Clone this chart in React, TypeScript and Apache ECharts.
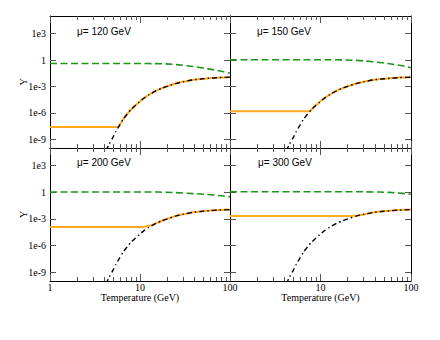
import React, { useEffect, useRef } from 'react';
import * as echarts from 'echarts';

// ---------- data (temperatures in GeV, abundances given as log10(Y)) ----------
const panelTitles = ['μ= 120 GeV', 'μ= 150 GeV', 'μ= 200 GeV', 'μ= 300 GeV'];

const xMajorTicks = [1, 10, 100];
const xMinorTicks = [2, 3, 4, 5, 6, 7, 8, 9, 20, 30, 40, 50, 60, 70, 80, 90];
const yTickExponents = [-9, -6, -3, 0, 3];

// equilibrium curve (black dash-dot), identical in every panel
const eqTemp = [4.2, 4.54, 5.0, 5.38, 5.9, 6.49, 7.2, 7.9, 8.8, 9.75, 11, 12.6, 15, 17.6, 20, 24.8, 30, 38, 47, 58, 75, 100];
const eqLogY = [-10.3, -9.56, -8.8, -8.15, -7.45, -6.73, -6.15, -5.65, -5.2, -4.8, -4.35, -3.95, -3.5, -3.2, -3.0, -2.68, -2.48, -2.27, -2.16, -2.08, -2.0, -1.95];

// green dashed curves
const green120Temp = [1, 12, 18, 24, 31, 40, 48, 60, 72, 85, 100];
const green120LogY = [-0.4, -0.4, -0.43, -0.5, -0.62, -0.75, -0.88, -1.04, -1.19, -1.34, -1.5];
const green150Temp = [1, 15, 20, 25, 30, 38, 48, 58, 70, 81, 100];
const green150LogY = [0.03, 0.03, 0.0, -0.04, -0.1, -0.2, -0.31, -0.43, -0.55, -0.66, -0.88];
const green200Temp = [1, 16, 25, 33, 42, 53, 65, 80, 100];
const green200LogY = [0.03, 0.03, -0.03, -0.1, -0.16, -0.23, -0.3, -0.39, -0.5];
const green300Temp = [1, 30, 45, 58, 70, 81, 100];
const green300LogY = [0.06, 0.06, 0.03, -0.01, -0.06, -0.12, -0.22];

// orange solid curves
const orange120Temp = [1, 5.6, 5.9, 6.49, 7.2, 7.9, 8.8, 9.75, 11, 12.6, 15, 17.6, 20, 24.8, 30, 38, 47, 58, 75, 100];
const orange120LogY = [-7.62, -7.62, -7.45, -6.73, -6.15, -5.65, -5.2, -4.8, -4.35, -3.95, -3.5, -3.2, -3.0, -2.68, -2.48, -2.27, -2.16, -2.08, -2.0, -1.95];
const orange150Temp = [1, 7.7, 7.9, 8.8, 9.75, 11, 12.6, 15, 17.6, 20, 24.8, 30, 38, 47, 58, 75, 100];
const orange150LogY = [-5.83, -5.83, -5.65, -5.2, -4.8, -4.35, -3.95, -3.5, -3.2, -3.0, -2.68, -2.48, -2.27, -2.16, -2.08, -2.0, -1.95];
const orange200Temp = [1, 10.5, 12, 13.5, 15, 17.6, 20, 24.8, 30, 38, 47, 58, 75, 100];
const orange200LogY = [-3.9, -3.9, -3.83, -3.7, -3.5, -3.2, -3.0, -2.68, -2.48, -2.27, -2.16, -2.08, -2.0, -1.95];
const orange300Temp = [1, 20, 24, 28, 33, 38, 47, 58, 75, 100];
const orange300LogY = [-2.68, -2.68, -2.64, -2.55, -2.4, -2.27, -2.16, -2.08, -2.0, -1.95];

const greenSets = [
  [green120Temp, green120LogY],
  [green150Temp, green150LogY],
  [green200Temp, green200LogY],
  [green300Temp, green300LogY],
];
const orangeSets = [
  [orange120Temp, orange120LogY],
  [orange150Temp, orange150LogY],
  [orange200Temp, orange200LogY],
  [orange300Temp, orange300LogY],
];

// ---------- layout ----------
const gridBoxes = [
  { left: 50, top: 16, width: 180, height: 132 },
  { left: 230, top: 16, width: 181, height: 132 },
  { left: 50, top: 148, width: 180, height: 133 },
  { left: 230, top: 148, width: 181, height: 133 },
];
const titlePos = [
  { left: 77, top: 26 },
  { left: 257, top: 26 },
  { left: 77, top: 157 },
  { left: 258, top: 157 },
];

const SERIF = "'Liberation Serif', 'DejaVu Serif', serif";
const SANS = "'Liberation Sans', Arial, sans-serif";
const TICK = '#555';
const GREEN = '#1a961a';
const ORANGE = '#ffaa1e';

const toXY = (t: number[], y: number[]) => t.map((v, i) => [Math.log10(v), y[i]]);

function buildOption() {
  const xMajor = xMajorTicks.map((v) => Math.log10(v));
  const xMinor = xMinorTicks.map((v) => Math.log10(v));
  const grid: any[] = [];
  const xAxis: any[] = [];
  const yAxis: any[] = [];
  const series: any[] = [];

  const axisLine = { show: true, onZero: false, lineStyle: { color: '#000', width: 1 } };

  // major grids 0..3
  for (let p = 0; p < 4; p++) {
    const isLeft = p % 2 === 0;
    const isBottom = p >= 2;
    grid.push({ ...gridBoxes[p], outerBoundsMode: 'none', containLabel: false });
    xAxis.push({
      type: 'value', gridIndex: p, position: 'bottom', min: 0, max: 2,
      axisLine,
      axisTick: { show: true, inside: true, length: 7, customValues: xMajor, lineStyle: { color: TICK } },
      axisLabel: {
        show: isBottom, customValues: isLeft ? xMajor : xMajor.slice(1), margin: 1,
        fontFamily: SERIF, fontSize: 10, lineHeight: 10, color: '#000',
        formatter: (v: number) => String(Math.round(Math.pow(10, v))),
      },
      splitLine: { show: false },
      name: isBottom ? 'Temperature (GeV)' : '',
      nameLocation: 'middle', nameGap: 11, nameMoveOverlap: false,
      nameTextStyle: { fontFamily: SERIF, fontSize: 10, lineHeight: 10, color: '#000' },
    });
    xAxis.push({
      type: 'value', gridIndex: p, position: 'top', min: 0, max: 2,
      axisLine,
      axisTick: { show: true, inside: true, length: 7, customValues: xMajor, lineStyle: { color: TICK } },
      axisLabel: { show: false },
      splitLine: { show: false },
    });
    yAxis.push({
      type: 'value', gridIndex: p, position: 'left', min: -10, max: 5,
      axisLine,
      axisTick: { show: true, inside: true, length: 6, customValues: yTickExponents, lineStyle: { color: TICK } },
      axisLabel: {
        show: isLeft, customValues: yTickExponents, margin: 4,
        fontFamily: SERIF, fontSize: 10, color: '#000',
        formatter: (v: number) => (v === 0 ? '1' : '1e' + v),
      },
      splitLine: { show: false },
      name: isLeft ? 'Y' : '',
      nameLocation: 'middle', nameGap: 22, nameMoveOverlap: false,
      nameTextStyle: { fontFamily: SERIF, fontSize: 10, color: '#000' },
    });
    yAxis.push({
      type: 'value', gridIndex: p, position: 'right', min: -10, max: 5,
      axisLine,
      axisTick: { show: true, inside: true, length: 6, customValues: yTickExponents, lineStyle: { color: TICK } },
      axisLabel: { show: false },
      splitLine: { show: false },
    });
  }
  // minor-tick grids 4..7 (same boxes)
  for (let p = 0; p < 4; p++) {
    const g = p + 4;
    grid.push({ ...gridBoxes[p], outerBoundsMode: 'none', containLabel: false });
    for (const pos of ['bottom', 'top']) {
      xAxis.push({
        type: 'value', gridIndex: g, position: pos, min: 0, max: 2,
        axisLine: { show: false, onZero: false },
        axisTick: { show: true, inside: true, length: 4, customValues: xMinor, lineStyle: { color: TICK } },
        axisLabel: { show: false },
        splitLine: { show: false },
      });
    }
    yAxis.push({ type: 'value', gridIndex: g, show: false, min: -10, max: 5, splitLine: { show: false } });
  }

  for (let p = 0; p < 4; p++) {
    const base = { type: 'line', xAxisIndex: 2 * p, yAxisIndex: 2 * p, showSymbol: false, symbol: 'none', silent: true, clip: true };
    series.push({
      ...base, name: 'green' + p,
      data: toXY(greenSets[p][0], greenSets[p][1]),
      lineStyle: { color: GREEN, width: 1.6, type: [7, 3.5] },
    });
    series.push({
      ...base, name: 'orange' + p,
      data: toXY(orangeSets[p][0], orangeSets[p][1]),
      lineStyle: { color: ORANGE, width: 2 },
      smooth: 0.2,
    });
    series.push({
      ...base, name: 'eq' + p,
      data: toXY(eqTemp, eqLogY),
      lineStyle: { color: '#000', width: 1.4, type: [5, 3, 1.5, 3] },
      smooth: 0.2,
    });
  }

  const title = panelTitles.map((t, i) => ({
    text: t, ...titlePos[i], padding: 0,
    textStyle: { fontFamily: SANS, fontSize: 10, fontWeight: 'normal', color: '#000' },
  }));

  return {
    animation: false,
    backgroundColor: '#fff',
    title,
    grid,
    xAxis,
    yAxis,
    series,
  };
}

export default function App() {
  const ref = useRef<HTMLDivElement>(null);
  useEffect(() => {
    if (!ref.current) return;
    const chart = echarts.init(ref.current, null, { renderer: 'svg' });
    chart.setOption(buildOption() as any);
    return () => chart.dispose();
  }, []);
  return (
    <div
      ref={ref}
      style={{ position: 'absolute', left: 0, top: 0, width: 440, height: 340 }}
    />
  );
}
